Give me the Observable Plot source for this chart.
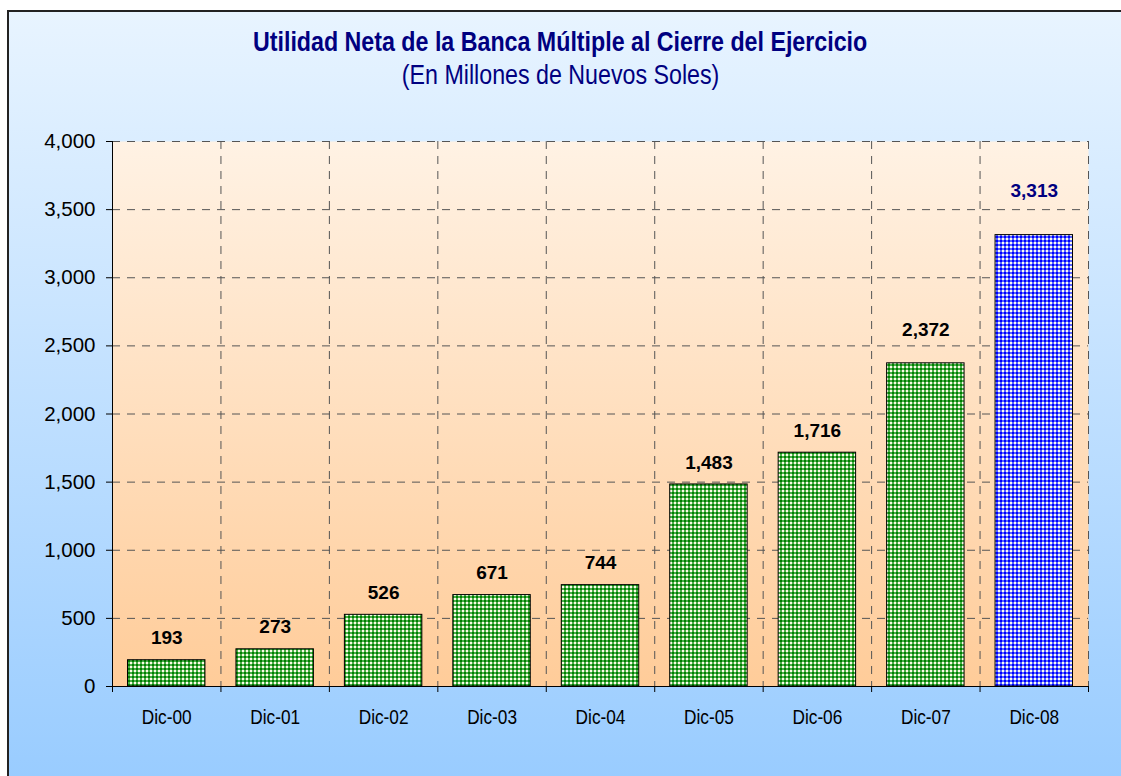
<!DOCTYPE html>
<html><head><meta charset="utf-8">
<script src="https://cdn.jsdelivr.net/npm/d3@7"></script>
<script src="https://cdn.jsdelivr.net/npm/@observablehq/plot@0.6"></script>
<style>
html,body{margin:0;padding:0;width:1121px;height:776px;overflow:hidden;background:#fff;font-family:"Liberation Sans",Arial,sans-serif;}
#frame{position:absolute;left:7px;top:10px;width:1200px;height:900px;border-left:2px solid #222;border-top:2px solid #222;
 background:linear-gradient(to bottom,#e8f4ff 0px,#99ccff 766px,#99ccff 900px);}
.hdr{position:absolute;left:0;width:1121px;text-align:center;color:#000080;font-size:27px;line-height:30px;}
.hdr span{display:inline-block;transform:scaleX(0.86);transform-origin:50% 50%;white-space:nowrap;}
#title{top:27px;font-weight:bold;}
#subtitle{top:60px;}
#chart{position:absolute;left:0;top:100px;}
</style></head>
<body>
<div id="frame"></div>
<div id="title" class="hdr"><span>Utilidad Neta de la Banca Múltiple al Cierre del Ejercicio</span></div>
<div id="subtitle" class="hdr"><span>(En Millones de Nuevos Soles)</span></div>
<div id="chart"></div>
<script>
const categories = ["Dic-00","Dic-01","Dic-02","Dic-03","Dic-04","Dic-05","Dic-06","Dic-07","Dic-08"];
const values = [193, 273, 526, 671, 744, 1483, 1716, 2372, 3313];
const yTicks = [0, 500, 1000, 1500, 2000, 2500, 3000, 3500, 4000];

const data = categories.map((c, i) => ({i, cat: c, value: values[i]}));
const fmt = d3.format(",");
const n = categories.length;
const lastCat = categories[n - 1];
const green = data.filter(d => d.cat !== lastCat);
const blue = data.filter(d => d.cat === lastCat);

const plot = Plot.plot({
  width: 1121, height: 676,
  marginLeft: 112, marginRight: 33, marginTop: 41, marginBottom: 90,
  x: {domain: [0, n], axis: null},
  y: {domain: [0, 4000], axis: null},
  style: {background: "transparent", fontFamily: "'Liberation Sans', Arial, sans-serif", color: "#000", overflow: "visible"},
  marks: [
    Plot.frame({fill: "url(#plotbg)", stroke: null}),
    Plot.gridY({ticks: yTicks.slice(1), stroke: "#555", strokeOpacity: 1, strokeWidth: 1, strokeDasharray: "8,7"}),
    Plot.gridX({ticks: d3.range(1, n + 1), stroke: "#555", strokeOpacity: 1, strokeWidth: 1, strokeDasharray: "8,7"}),
    Plot.rectY(green, {x1: "i", x2: d => d.i + 1, y: "value", insetLeft: 15.5, insetRight: 15.5, fill: "url(#chkG)", stroke: "#000", strokeWidth: 1}),
    Plot.rectY(blue, {x1: "i", x2: d => d.i + 1, y: "value", insetLeft: 15.5, insetRight: 15.5, fill: "url(#chkB)", stroke: "#000", strokeWidth: 1}),
    Plot.ruleX([0], {stroke: "#000", strokeWidth: 1}),
    Plot.ruleY([0], {stroke: "#000", strokeWidth: 1}),
    Plot.axisY({ticks: yTicks, tickFormat: fmt, tickSize: 6, tickPadding: 11, fontSize: 20.5, stroke: "#000", label: null}),
    Plot.axisX({ticks: d3.range(0, n + 1), tickSize: 6, tickFormat: () => "", stroke: "#000", label: null}),
    Plot.axisX({ticks: d3.range(n).map(i => i + 0.5), tickSize: 0, tickPadding: 23, tickFormat: d => categories[Math.floor(d)], fontSize: 21, label: null}),
    Plot.text(data.slice(0, 7), {x: d => d.i + 0.5, y: "value", text: d => fmt(d.value), dy: -22, fontWeight: "bold", fontSize: 19, fill: "#000"}),
    Plot.text(data.slice(7, 8), {x: d => d.i + 0.5, y: "value", text: d => fmt(d.value), dy: -33, fontWeight: "bold", fontSize: 19, fill: "#000"}),
    Plot.text(blue, {x: d => d.i + 0.5, y: "value", text: d => fmt(d.value), dy: -44, fontWeight: "bold", fontSize: 19, fill: "#000080"})
  ]
});

const svg = d3.select(plot);
const defs = svg.insert("defs", ":first-child");
const lg = defs.append("linearGradient").attr("id", "plotbg").attr("x1", 0).attr("y1", 0).attr("x2", 0).attr("y2", 1);
lg.append("stop").attr("offset", "0%").attr("stop-color", "#fff2e4");
lg.append("stop").attr("offset", "100%").attr("stop-color", "#ffcc99");
function checker(id, base, dark, light) {
  const p = defs.append("pattern").attr("id", id).attr("patternUnits", "userSpaceOnUse").attr("width", 4).attr("height", 4);
  p.append("rect").attr("width", 4).attr("height", 4).attr("fill", base);
  p.append("rect").attr("width", 2).attr("height", 2).attr("fill", dark);
  p.append("rect").attr("x", 2).attr("y", 2).attr("width", 2).attr("height", 2).attr("fill", light);
}
checker("chkG", "#4cae4c", "#008000", "#fbfbe6");
checker("chkB", "#5a66ff", "#0000ff", "#fafaf0");
document.getElementById("chart").appendChild(plot);

// condensed look for the category labels (Arial Narrow style)
svg.selectAll("text").filter(function() { return categories.includes(this.textContent); })
  .each(function() {
    const w = this.getComputedTextLength();
    this.setAttribute("textLength", (w * 0.82).toFixed(1));
    this.setAttribute("lengthAdjust", "spacingAndGlyphs");
  });
</script>
</body></html>
